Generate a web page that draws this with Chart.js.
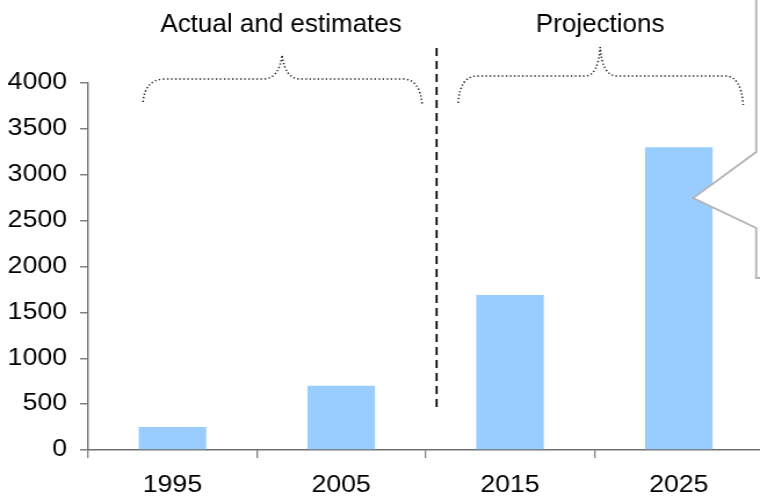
<!DOCTYPE html>
<html>
<head>
<meta charset="utf-8">
<script src="https://cdn.jsdelivr.net/npm/chart.js@4/dist/chart.umd.min.js"></script>
<style>
  html, body { margin: 0; padding: 0; background: #fff; overflow: hidden; }
</style>
</head>
<body>
<canvas id="myChart"></canvas>
<script>
// data
const years = ['1995', '2005', '2015', '2025'];
const values = [250, 700, 1690, 3300];
const yTicks = [0, 500, 1000, 1500, 2000, 2500, 3000, 3500, 4000];
const groupTitles = ['Actual and estimates', 'Projections'];

const FONT = 'Arial, "Liberation Sans", sans-serif';

// the axis labels in the original are stretched sideways, so the canvas is too
const SX = 1.16;
const W = 680, H = 498;
const cssW = W * SX;
const canvas = document.getElementById('myChart');
canvas.width = W;
canvas.height = H;
canvas.style.width = cssW + 'px';
canvas.style.height = H + 'px';

// page px -> canvas px
function X(px) { return px / SX; }

// braces, dashed divider, titles and the callout edge on the right
const extras = {
  id: 'extras',
  afterDraw(chart) {
    const ctx = chart.ctx;
    ctx.save();

    // callout (white box edge with pointer)
    const callout = [[756, -2], [756, 152], [693, 198], [756, 228], [756, 278], [800, 278]];
    ctx.beginPath();
    callout.forEach((p, i) => i ? ctx.lineTo(X(p[0]), p[1]) : ctx.moveTo(X(p[0]), p[1]));
    ctx.lineTo(X(800), -2);
    ctx.closePath();
    ctx.fillStyle = '#ffffff';
    ctx.fill();
    ctx.beginPath();
    callout.forEach((p, i) => i ? ctx.lineTo(X(p[0]), p[1]) : ctx.moveTo(X(p[0]), p[1]));
    ctx.strokeStyle = '#b4b4b4';
    ctx.lineWidth = 1.8;
    ctx.stroke();

    // dotted braces
    ctx.strokeStyle = '#222';
    ctx.lineWidth = 1.5;
    ctx.setLineDash([1.3, 2.2]);
    ctx.beginPath();
    ctx.moveTo(X(143), 102);
    ctx.quadraticCurveTo(X(145), 79, X(165), 79);
    ctx.lineTo(X(263), 79);
    ctx.quadraticCurveTo(X(279), 79, X(282), 55);
    ctx.quadraticCurveTo(X(285), 79, X(300), 79);
    ctx.lineTo(X(403), 79);
    ctx.quadraticCurveTo(X(420), 79, X(422), 105);
    ctx.stroke();

    ctx.beginPath();
    ctx.moveTo(X(458), 103);
    ctx.quadraticCurveTo(X(460), 76, X(477), 76);
    ctx.lineTo(X(585), 76);
    ctx.quadraticCurveTo(X(598), 76, X(600), 47);
    ctx.quadraticCurveTo(X(602), 76, X(617), 76);
    ctx.lineTo(X(725), 76);
    ctx.quadraticCurveTo(X(741), 76, X(743), 105);
    ctx.stroke();

    // dashed divider
    ctx.setLineDash([8, 5]);
    ctx.lineWidth = 1.7;
    ctx.strokeStyle = '#000';
    ctx.beginPath();
    ctx.moveTo(X(436.5), 48);
    ctx.lineTo(X(436.5), 409);
    ctx.stroke();
    ctx.setLineDash([]);

    // titles are not stretched: undo the canvas stretch for them
    ctx.scale(1 / SX, 1);
    ctx.fillStyle = '#000';
    ctx.font = '26px ' + FONT;
    ctx.textAlign = 'center';
    ctx.textBaseline = 'alphabetic';
    ctx.fillText(groupTitles[0], 281, 32);
    ctx.fillText(groupTitles[1], 600, 32);

    ctx.restore();
  }
};

const data = {
  labels: years,
  datasets: [{
    data: values,
    backgroundColor: '#99ccff',
    borderWidth: 0,
    categoryPercentage: 0.8,
    barPercentage: 0.5
  }]
};

const config = {
  type: 'bar',
  data: data,
  options: {
    responsive: false,
    animation: false,
    events: [],
    layout: { padding: { top: 83, right: X(cssW - 763), left: 0, bottom: 0 } },
    plugins: {
      legend: { display: false },
      tooltip: { enabled: false }
    },
    scales: {
      x: {
        grid: {
          offset: true,
          drawOnChartArea: false,
          drawTicks: true,
          tickLength: 8,
          color: '#808080',
          lineWidth: 1.3
        },
        border: { display: true, color: '#707070', width: 1.5 },
        ticks: {
          color: '#000',
          padding: 14,
          font: { family: FONT, size: 23 }
        },
        afterFit(scale) { scale.height = 48; }
      },
      y: {
        min: 0,
        max: 4000,
        afterBuildTicks(scale) { scale.ticks = yTicks.map(v => ({ value: v })); },
        grid: {
          drawOnChartArea: false,
          drawTicks: true,
          tickLength: X(8),
          color: '#808080',
          lineWidth: 1.5
        },
        border: { display: true, color: '#707070', width: 1.4 },
        ticks: {
          color: '#000',
          padding: X(13),
          font: { family: FONT, size: 23 },
          callback: v => String(v)
        },
        afterFit(scale) { scale.width = X(88); }
      }
    }
  },
  plugins: [extras]
};

const myChart = new Chart(canvas, config);
</script>
</body>
</html>
